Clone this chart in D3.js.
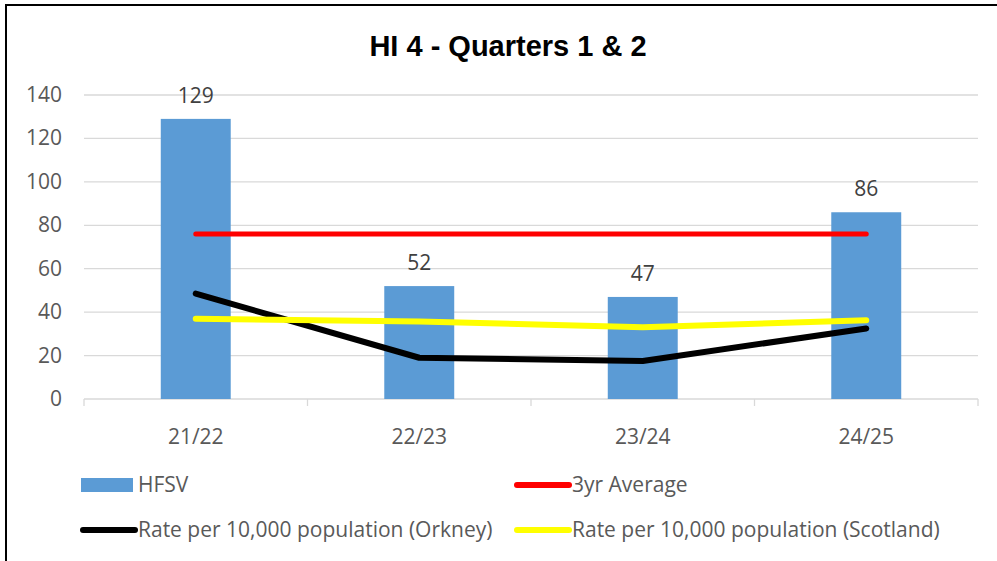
<!DOCTYPE html>
<html>
<head>
<meta charset="utf-8">
<script src="https://cdn.jsdelivr.net/npm/d3@7"></script>
<style>
  body { margin: 0; background: #fff; }
  svg { display: block; }
  text { font-family: "Open Sans", "DejaVu Sans", sans-serif; }
</style>
</head>
<body>
<svg id="chart" width="997" height="561"></svg>
<script>
const categories = ["21/22", "22/23", "23/24", "24/25"]
const hfsv = [129, 52, 47, 86]
const threeYrAvg = [76, 76, 76, 76]
const rateOrkney = [48.5, 19, 17.5, 32.5]
const rateScotland = [37, 35.7, 33, 36.3]
const yTicks = [0, 20, 40, 60, 80, 100, 120, 140]

const svg = d3.select("#chart")
const W = 997, H = 561
const fontSize = "21px"

// outer frame (right/bottom edges fall outside the picture)
svg.append("rect")
  .attr("x", 6).attr("y", 5)
  .attr("width", W + 10).attr("height", H + 10)
  .attr("fill", "#fff")
  .attr("stroke", "#000")
  .attr("stroke-width", 2)

svg.append("text")
  .attr("x", 508).attr("y", 56)
  .attr("text-anchor", "middle")
  .style("font-family", "'Liberation Sans Narrow', 'Arial Narrow', 'Liberation Sans', sans-serif")
  .style("font-weight", "bold")
  .style("font-size", "29px")
  .attr("fill", "#000")
  .text("HI 4 - Quarters 1 & 2")

const x = d3.scaleBand().domain(categories).range([84, 978])
const y = d3.scaleLinear().domain([0, 140]).range([399, 95])
const barW = x.bandwidth() * 0.313

// gridlines
svg.append("g")
  .selectAll("line")
  .data(yTicks.filter(d => d > 0))
  .enter().append("line")
  .attr("x1", 84).attr("x2", 978)
  .attr("y1", d => y(d)).attr("y2", d => y(d))
  .attr("stroke", "#d9d9d9")
  .attr("stroke-width", 1.3)

// y tick labels
svg.append("g")
  .selectAll("text")
  .data(yTicks)
  .enter().append("text")
  .attr("x", 62)
  .attr("y", d => y(d) + 7)
  .attr("text-anchor", "end")
  .style("font-size", fontSize)
  .attr("fill", "#595959")
  .text(d => d)

// x axis with tick marks between categories
const xAxis = svg.append("g")
xAxis.append("line")
  .attr("x1", 84).attr("x2", 978)
  .attr("y1", y(0)).attr("y2", y(0))
  .attr("stroke", "#d9d9d9").attr("stroke-width", 1.3)
xAxis.selectAll("line.tick")
  .data(categories.map(c => x(c)).concat([x.range()[1]]))
  .enter().append("line")
  .attr("class", "tick")
  .attr("x1", d => d).attr("x2", d => d)
  .attr("y1", y(0)).attr("y2", y(0) + 7)
  .attr("stroke", "#d9d9d9").attr("stroke-width", 1.3)
xAxis.selectAll("text")
  .data(categories)
  .enter().append("text")
  .attr("x", d => x(d) + x.bandwidth() / 2)
  .attr("y", 444)
  .attr("text-anchor", "middle")
  .style("font-size", fontSize)
  .attr("fill", "#595959")
  .text(d => d)

// bars
svg.append("g")
  .selectAll("rect")
  .data(hfsv)
  .enter().append("rect")
  .attr("x", (d, i) => x(categories[i]) + x.bandwidth() / 2 - barW / 2)
  .attr("y", d => y(d))
  .attr("width", barW)
  .attr("height", d => y(0) - y(d))
  .attr("fill", "#5b9bd5")

// bar labels
svg.append("g")
  .selectAll("text")
  .data(hfsv)
  .enter().append("text")
  .attr("x", (d, i) => x(categories[i]) + x.bandwidth() / 2)
  .attr("y", d => y(d) - 16)
  .attr("text-anchor", "middle")
  .style("font-size", fontSize)
  .attr("fill", "#404040")
  .text(d => d)

const line = d3.line()
  .x((d, i) => x(categories[i]) + x.bandwidth() / 2)
  .y(d => y(d))

const series = [
  { values: threeYrAvg, color: "#ff0000", width: 5 },
  { values: rateOrkney, color: "#000000", width: 6 },
  { values: rateScotland, color: "#ffff00", width: 6 }
]
svg.append("g")
  .selectAll("path")
  .data(series)
  .enter().append("path")
  .attr("d", d => line(d.values))
  .attr("fill", "none")
  .attr("stroke", d => d.color)
  .attr("stroke-width", d => d.width)
  .attr("stroke-linecap", "round")
  .attr("stroke-linejoin", "round")

// legend
const legend = [
  { label: "HFSV", type: "bar", color: "#5b9bd5", x: 81, y: 485 },
  { label: "3yr Average", type: "line", color: "#ff0000", x: 515, y: 485 },
  { label: "Rate per 10,000 population (Orkney)", type: "line", color: "#000000", x: 81, y: 530 },
  { label: "Rate per 10,000 population (Scotland)", type: "line", color: "#ffff00", x: 515, y: 530 }
]
const lg = svg.append("g")
  .selectAll("g")
  .data(legend)
  .enter().append("g")
  .attr("transform", d => "translate(" + d.x + "," + d.y + ")")
lg.each(function(d) {
  const g = d3.select(this)
  if (d.type === "bar") {
    g.append("rect").attr("x", 0).attr("y", -7).attr("width", 52).attr("height", 14).attr("fill", d.color)
  } else {
    g.append("line").attr("x1", 2).attr("x2", 54).attr("y1", 0).attr("y2", 0)
      .attr("stroke", d.color).attr("stroke-width", 6).attr("stroke-linecap", "round")
  }
})
lg.append("text")
  .attr("x", 57)
  .attr("y", 7)
  .style("font-size", fontSize)
  .attr("fill", "#595959")
  .text(d => d.label)
</script>
</body>
</html>
